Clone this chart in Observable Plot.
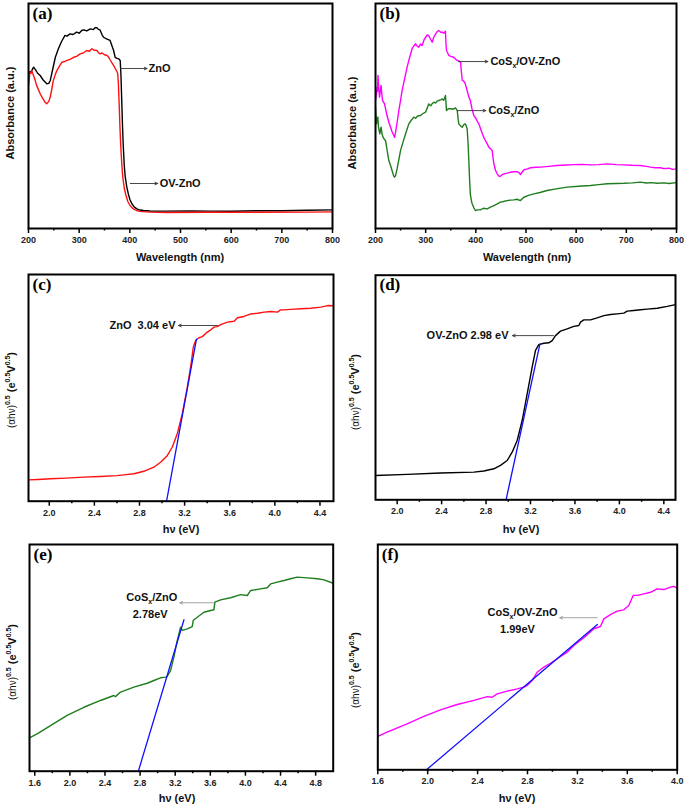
<!DOCTYPE html>
<html><head><meta charset="utf-8">
<script src="https://cdn.jsdelivr.net/npm/d3@7"></script>
<script src="https://cdn.jsdelivr.net/npm/@observablehq/plot@0.6"></script>
<style>
body{margin:0;background:#fff;}
#wrap{position:relative;width:685px;height:807px;overflow:hidden;font-family:"Liberation Sans",Arial,sans-serif;background:#fff;}
.p{position:absolute;}
.lab{position:absolute;font-weight:bold;font-size:11px;white-space:nowrap;transform:translate(-50%,-50%);color:#111;line-height:1;}
.ylab{transform:translate(-50%,-50%) rotate(-90deg);}
.lab sup{font-size:7px;vertical-align:0;position:relative;top:-5px;}
.lt{font-weight:normal;font-size:10px;}
</style></head><body><div id="wrap"></div><script>
// ---------- data ----------
// (a) UV-vis absorbance, wavelength (nm) vs absorbance (a.u.)
const a_ZnO = [[200,0.69],[202,0.695],[206,0.70],[210,0.717],[214,0.705],[218,0.69],[223,0.68],[229,0.66],[236,0.643],[240,0.645],[243,0.658],[248,0.71],[253,0.761],[259,0.799],[265,0.83],[272,0.858],[276,0.855],[282,0.865],[288,0.862],[295,0.873],[300,0.868],[305,0.88],[309,0.883],[315,0.878],[322,0.887],[328,0.884],[332,0.893],[335,0.892],[338,0.885],[341,0.883],[345,0.862],[348,0.85],[355,0.842],[361,0.836],[365,0.81],[368,0.791],[371,0.761],[375,0.756],[378,0.754],[381,0.747],[382.5,0.68],[384,0.57],[385.5,0.46],[387,0.37],[389,0.28],[391,0.228],[394,0.185],[397,0.154],[400,0.13],[404,0.11],[409,0.095],[414,0.087],[420,0.082],[427,0.08],[440,0.078],[473,0.077],[520,0.078],[560,0.077],[600,0.077],[650,0.079],[700,0.079],[750,0.081],[800,0.083]];
const a_OVZnO = [[200,0.636],[202,0.68],[203,0.695],[205,0.69],[206.6,0.702],[208,0.69],[210,0.68],[213,0.66],[216,0.636],[220,0.615],[223,0.599],[228,0.578],[233,0.561],[236,0.554],[240,0.565],[243,0.584],[246,0.62],[249,0.658],[253,0.685],[256,0.702],[261,0.722],[266,0.739],[271,0.742],[276,0.747],[282,0.752],[289,0.761],[295,0.765],[302,0.776],[308,0.78],[315,0.791],[320,0.788],[325,0.799],[330,0.792],[335,0.791],[338,0.782],[341,0.776],[345,0.78],[350,0.772],[355,0.769],[358,0.762],[361,0.75],[365,0.735],[368,0.725],[371,0.712],[374,0.70],[376,0.69],[377.5,0.64],[379,0.55],[380.5,0.45],[382,0.37],[384,0.29],[386,0.23],[389,0.18],[392,0.15],[396,0.12],[401,0.1],[407,0.087],[413,0.08],[420,0.076],[440,0.073],[473,0.071],[550,0.072],[650,0.072],[750,0.073],[800,0.074]];
// (b)
const b_CoSOVZnO = [[200,0.569],[202,0.6],[203,0.628],[204,0.61],[205,0.68],[206.5,0.62],[208,0.584],[210,0.62],[211,0.636],[212.5,0.6],[214,0.569],[218,0.554],[223,0.502],[227,0.47],[230,0.45],[233,0.43],[236.5,0.413],[238,0.405],[240,0.428],[243,0.47],[246.5,0.524],[250,0.57],[253,0.613],[258,0.665],[263,0.717],[268,0.76],[273,0.799],[276,0.81],[280,0.821],[283,0.81],[286,0.806],[290,0.82],[293,0.813],[297,0.84],[300,0.85],[303,0.86],[306,0.858],[310,0.84],[313,0.828],[316,0.85],[320,0.865],[323,0.875],[326,0.88],[330,0.872],[333,0.873],[336,0.868],[339.5,0.877],[340.5,0.82],[341.5,0.791],[344,0.78],[346,0.769],[350,0.765],[356,0.761],[360,0.752],[363,0.747],[366,0.745],[369.5,0.739],[371,0.7],[373,0.658],[376,0.655],[379,0.643],[383,0.61],[386,0.585],[389,0.569],[392,0.535],[396,0.502],[400,0.49],[403,0.476],[406,0.465],[410,0.44],[413,0.421],[416,0.405],[419,0.391],[423,0.375],[426,0.361],[429,0.355],[432.5,0.347],[434,0.32],[436,0.287],[439,0.26],[442.5,0.243],[445,0.235],[448,0.231],[452,0.238],[456,0.243],[462,0.246],[469,0.25],[475,0.252],[482,0.253],[486,0.248],[489,0.24],[492,0.25],[496,0.261],[503,0.265],[509,0.27],[520,0.272],[529,0.273],[545,0.276],[562,0.28],[580,0.282],[595,0.284],[612,0.285],[628.5,0.283],[645,0.284],[662,0.287],[680,0.284],[695,0.283],[712,0.281],[728,0.28],[740,0.276],[748,0.273],[758,0.27],[768,0.27],[775,0.266],[785,0.268],[792,0.263],[800,0.265]];
const b_CoSZnO = [[200,0.539],[201,0.5],[202,0.465],[203.5,0.49],[204.7,0.495],[206,0.45],[208.6,0.421],[210,0.44],[211.3,0.45],[213,0.42],[215,0.406],[218,0.395],[220,0.391],[223,0.35],[226.6,0.302],[230,0.28],[233,0.258],[236,0.235],[238,0.228],[240,0.235],[243,0.265],[246,0.3],[250,0.347],[255,0.385],[260,0.421],[266.4,0.465],[271,0.48],[276.4,0.495],[280,0.49],[284,0.5],[289.7,0.502],[294,0.51],[299.7,0.517],[303,0.535],[306.3,0.554],[310,0.545],[313,0.555],[316.3,0.561],[320,0.558],[323,0.566],[326,0.569],[330,0.572],[333,0.576],[336,0.57],[339.5,0.591],[341.5,0.524],[345,0.532],[349.5,0.532],[354,0.53],[359.5,0.536],[363,0.524],[364.5,0.49],[366,0.465],[370,0.455],[373,0.45],[376,0.462],[379,0.465],[381,0.455],[382.7,0.443],[384.5,0.38],[386,0.302],[387.5,0.22],[389,0.154],[391,0.125],[392.7,0.11],[396,0.092],[399.3,0.08],[403,0.083],[409,0.083],[415,0.09],[422.6,0.087],[429,0.095],[436,0.102],[442,0.108],[449,0.117],[455,0.12],[462,0.124],[469,0.126],[475.7,0.127],[482,0.13],[489,0.124],[495.7,0.139],[505,0.147],[515.6,0.154],[528,0.16],[542,0.169],[560,0.176],[582,0.184],[605,0.188],[628.6,0.191],[645,0.195],[662,0.199],[680,0.2],[695,0.201],[712,0.203],[728,0.206],[740,0.202],[750,0.204],[761.5,0.201],[775,0.203],[785,0.2],[800,0.204]];
// (c)-(f) Tauc plots, hv (eV) vs (ahv)^0.5 (a.u.)
const c_ZnO = [[1.816,0.094],[1.9,0.096],[2.009,0.099],[2.15,0.102],[2.305,0.106],[2.45,0.109],[2.601,0.113],[2.68,0.117],[2.75,0.121],[2.839,0.132],[2.927,0.15],[2.987,0.172],[3.046,0.201],[3.09,0.238],[3.135,0.297],[3.179,0.385],[3.224,0.503],[3.253,0.591],[3.277,0.679],[3.298,0.709],[3.327,0.721],[3.357,0.726],[3.401,0.746],[3.435,0.757],[3.461,0.768],[3.49,0.77],[3.52,0.779],[3.579,0.79],[3.639,0.794],[3.668,0.809],[3.727,0.815],[3.787,0.826],[3.846,0.829],[3.905,0.834],[3.964,0.837],[4.024,0.834],[4.05,0.844],[4.083,0.844],[4.142,0.846],[4.231,0.849],[4.32,0.851],[4.409,0.856],[4.468,0.863],[4.52,0.862]];
const c_fit = [[3.04,0],[3.305,0.715]];
const d_OVZnO = [[1.805,0.108],[2.09,0.113],[2.39,0.119],[2.69,0.123],[2.78,0.128],[2.87,0.138],[2.93,0.153],[2.99,0.175],[3.035,0.212],[3.08,0.264],[3.125,0.353],[3.17,0.472],[3.215,0.591],[3.245,0.665],[3.275,0.691],[3.32,0.697],[3.365,0.699],[3.395,0.709],[3.425,0.731],[3.47,0.751],[3.53,0.761],[3.59,0.772],[3.635,0.776],[3.65,0.791],[3.68,0.801],[3.74,0.801],[3.8,0.81],[3.86,0.82],[3.92,0.825],[3.98,0.828],[4.04,0.831],[4.07,0.84],[4.13,0.843],[4.19,0.846],[4.25,0.849],[4.34,0.853],[4.43,0.861],[4.505,0.869]];
const d_fit = [[2.98,0],[3.285,0.694]];
const e_CoSZnO = [[1.539,0.147],[1.627,0.165],[1.779,0.201],[1.969,0.246],[2.159,0.282],[2.349,0.312],[2.501,0.334],[2.52,0.329],[2.577,0.349],[2.729,0.371],[2.881,0.388],[2.957,0.4],[3.033,0.412],[3.09,0.415],[3.109,0.418],[3.147,0.444],[3.185,0.503],[3.223,0.576],[3.261,0.635],[3.28,0.621],[3.337,0.628],[3.394,0.638],[3.405,0.665],[3.451,0.679],[3.527,0.701],[3.603,0.709],[3.641,0.712],[3.652,0.746],[3.717,0.756],[3.831,0.765],[3.945,0.779],[4.021,0.775],[4.059,0.797],[4.173,0.804],[4.249,0.809],[4.287,0.826],[4.363,0.834],[4.439,0.841],[4.515,0.849],[4.591,0.856],[4.705,0.853],[4.819,0.849],[4.895,0.844],[5.0,0.829]];
const e_fit = [[2.78,0],[3.30,0.668]];
const f_CoSOVZnO = [[1.6,0.148],[1.675,0.167],[1.835,0.204],[1.969,0.237],[2.102,0.266],[2.236,0.29],[2.37,0.308],[2.477,0.325],[2.517,0.322],[2.557,0.337],[2.637,0.349],[2.717,0.359],[2.77,0.367],[2.797,0.374],[2.837,0.396],[2.877,0.433],[2.931,0.456],[2.984,0.473],[3.038,0.493],[3.118,0.522],[3.171,0.552],[3.252,0.586],[3.332,0.626],[3.385,0.636],[3.412,0.67],[3.465,0.689],[3.519,0.704],[3.572,0.71],[3.612,0.729],[3.647,0.774],[3.679,0.774],[3.733,0.781],[3.786,0.788],[3.839,0.803],[3.893,0.8],[3.946,0.811],[3.973,0.814],[4.0,0.806]];
const f_fit = [[1.99,0],[3.36,0.645]];

// tick values
const ticksWave = [200,300,400,500,600,700,800];
const minorWave = [250,350,450,550,650,750];
const ticksCD = [2.0,2.4,2.8,3.2,3.6,4.0,4.4];
const minorCD = [2.2,2.6,3.0,3.4,3.8,4.2];
const ticksE = [1.6,2.0,2.4,2.8,3.2,3.6,4.0,4.4,4.8];
const minorE = [1.8,2.2,2.6,3.0,3.4,3.8,4.2,4.6];
const ticksF = [1.6,2.0,2.4,2.8,3.2,3.6,4.0];
const minorF = [1.8,2.2,2.6,3.0,3.4,3.8];

// annotation labels
const notesA = [{x:437,y:0.711,text:"ZnO"},{x:459,y:0.2,text:"OV-ZnO"}];
const arrowsA = [{x1:381.6,x2:434,y:0.711},{x1:401,x2:455,y:0.2}];
const notesB = [{x:429,y:0.742,text:"CoS_x/OV-ZnO"},{x:425,y:0.524,text:"CoS_x/ZnO"}];
const arrowsB = [{x1:365.4,x2:424,y:0.742},{x1:363.5,x2:420,y:0.524}];
const notesC = [{x:3.119,y:0.775,text:"ZnO\u00a0\u00a03.04 eV"}];
const arrowsC = [{x1:3.492,x2:3.146,y:0.775}];
const notesD = [{x:3.002,y:0.731,text:"OV-ZnO 2.98 eV"}];
const arrowsD = [{x1:3.407,x2:3.038,y:0.731}];
const notesE = [{x:2.934,y:0.768,text:"CoS_x/ZnO"},{x:2.915,y:0.691,text:"2.78eV"}];
const arrowsE = [{x1:3.641,x2:3.253,y:0.743}];
const notesF = [{x:2.76,y:0.70,text:"CoS_x/OV-ZnO"},{x:2.72,y:0.621,text:"1.99eV"}];
const arrowsF = [{x1:3.358,x2:3.059,y:0.675}];

// ---------- drawing ----------
const wrap = document.getElementById("wrap");
const SANS = "Liberation Sans, Arial, sans-serif";
const BLUE = "#1010ff";

function panel(o) {
  const [fl, ft, fr, fb] = o.frame;
  const marks = [];
  for (const s of o.series) marks.push(Plot.line(s.data, {x: d => d[0], y: d => d[1], stroke: s.color, strokeWidth: 1.4}));
  if (o.fit) marks.push(Plot.line(o.fit, {x: d => d[0], y: d => d[1], stroke: BLUE, strokeWidth: 1.3}));
  marks.push(Plot.arrow(o.arrows, {x1: "x1", y1: "y", x2: "x2", y2: "y", stroke: o.arrowColor || "#333", strokeWidth: 0.9, headLength: 5, headAngle: 50}));
  marks.push(Plot.text(o.notes, {x: "x", y: "y", text: "text", textAnchor: o.anchor, fontSize: 11, fontWeight: "bold", fontFamily: SANS, fill: "#111"}));
  marks.push(Plot.frame({stroke: "#000", strokeWidth: 2}));
  marks.push(Plot.axisX(o.major, {tickSize: 5, tickPadding: 3, strokeWidth: 1.5, tickFormat: o.fmt, fontSize: 9, fontWeight: "bold", fill: "#222"}));
  marks.push(Plot.axisX(o.minor, {tickSize: 2.5, strokeWidth: 1.5, tickFormat: () => ""}));
  marks.push(Plot.text([o.letter], {frameAnchor: "top-left", dx: 4, dy: 3, lineAnchor: "top", text: d => d, fontFamily: "Liberation Serif, Times New Roman, serif", fontSize: 17, fontWeight: "bold", fill: "#000"}));
  const plot = Plot.plot({
    width: o.w, height: o.h,
    marginLeft: fl - o.left, marginTop: ft - o.top,
    marginRight: o.left + o.w - fr, marginBottom: o.top + o.h - fb,
    x: {domain: o.xDomain, axis: null, label: null},
    y: {domain: [0, 1], axis: null, label: null},
    style: {fontFamily: SANS, fontSize: "9px", fontWeight: "bold", overflow: "visible", background: "transparent"},
    marks
  });
  // subscript "x" in CoSx labels
  plot.querySelectorAll("text").forEach(t => {
    if (t.children.length === 0 && t.textContent.includes("_x")) {
      const [a, b] = t.textContent.split("_x");
      t.textContent = "";
      const ns = "http://www.w3.org/2000/svg";
      const t1 = document.createElementNS(ns, "tspan"); t1.textContent = a;
      const t2 = document.createElementNS(ns, "tspan"); t2.textContent = "x"; t2.setAttribute("dy", "3"); t2.setAttribute("font-size", "7");
      const t3 = document.createElementNS(ns, "tspan"); t3.textContent = b; t3.setAttribute("dy", "-3");
      t.append(t1, t2, t3);
    }
  });
  plot.classList.add("p");
  plot.style.left = o.left + "px";
  plot.style.top = o.top + "px";
  wrap.appendChild(plot);
}

const fmtInt = d3.format("d"), fmt1 = d3.format(".1f");
panel({left:0, top:0, w:342, h:262, frame:[28,3,332,228], xDomain:[200,800], major:ticksWave, minor:minorWave, fmt:fmtInt,
  series:[{data:a_ZnO,color:"#000"},{data:a_OVZnO,color:"#ff1010"}], notes:notesA, arrows:arrowsA, anchor:"start", letter:"(a)"});
panel({left:342, top:0, w:343, h:262, frame:[375,3,676,228], xDomain:[200,800], major:ticksWave, minor:minorWave, fmt:fmtInt,
  series:[{data:b_CoSOVZnO,color:"#ff00ff"},{data:b_CoSZnO,color:"#1f7d1f"}], notes:notesB, arrows:arrowsB, anchor:"start", letter:"(b)"});
panel({left:0, top:262, w:342, h:273, frame:[28,274,333,500.7], xDomain:[1.816,4.52], major:ticksCD, minor:minorCD, fmt:fmt1,
  series:[{data:c_ZnO,color:"#ff1010"}], fit:c_fit, notes:notesC, arrows:arrowsC, anchor:"end", letter:"(c)"});
panel({left:342, top:262, w:343, h:273, frame:[375,274.7,675,499.3], xDomain:[1.805,4.505], major:ticksCD, minor:minorCD, fmt:fmt1,
  series:[{data:d_OVZnO,color:"#000"}], fit:d_fit, notes:notesD, arrows:arrowsD, anchor:"end", letter:"(d)"});
panel({left:0, top:535, w:342, h:272, frame:[29,544,332.7,770.7], xDomain:[1.54,5.0], major:ticksE, minor:minorE, fmt:fmt1,
  series:[{data:e_CoSZnO,color:"#1f7d1f"}], fit:e_fit, notes:notesE, arrows:arrowsE, anchor:"middle", arrowColor:"#999", letter:"(e)"});
panel({left:342, top:535, w:343, h:272, frame:[377.3,544,676.7,769.3], xDomain:[1.6,4.0], major:ticksF, minor:minorF, fmt:fmt1,
  series:[{data:f_CoSOVZnO,color:"#ff00ff"}], fit:f_fit, notes:notesF, arrows:arrowsF, anchor:"middle", arrowColor:"#999", letter:"(f)"});

// axis titles
const tauc = '<span class="lt">(&alpha;h&nu;)</span><sup>0.5</sup> (e<sup>0.5</sup>V<sup>0.5</sup>)';
const titles = [
  {x:10, y:113, html:"Absorbance (a.u.)", rot:true},
  {x:352, y:123, html:"Absorbance (a.u.)", rot:true},
  {x:180, y:257, html:"Wavelength (nm)"},
  {x:527, y:257, html:"Wavelength (nm)"},
  {x:11, y:390, html:tauc, rot:true},
  {x:355, y:392, html:tauc, rot:true},
  {x:12, y:662, html:tauc, rot:true},
  {x:355, y:670, html:tauc, rot:true},
  {x:181, y:529, html:"h&nu; (eV)"},
  {x:521, y:529, html:"h&nu; (eV)"},
  {x:177, y:798, html:"h&nu; (eV)"},
  {x:517, y:798, html:"h&nu; (eV)"}
];
for (const t of titles) {
  const d = document.createElement("div");
  d.className = "lab" + (t.rot ? " ylab" : "");
  d.style.left = t.x + "px"; d.style.top = t.y + "px";
  d.innerHTML = t.html;
  wrap.appendChild(d);
}
</script></body></html>
